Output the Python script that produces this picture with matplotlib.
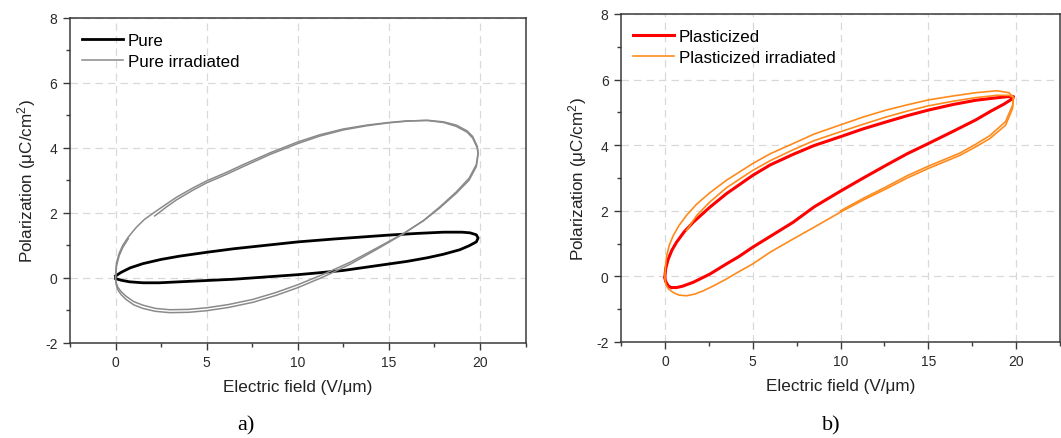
import matplotlib
matplotlib.use("Agg")
import matplotlib.pyplot as plt
from matplotlib.ticker import MultipleLocator

plt.rcParams['font.family'] = ['Liberation Sans', 'DejaVu Sans']
plt.rcParams['mathtext.fontset'] = 'custom'
plt.rcParams['mathtext.rm'] = 'Liberation Sans'
plt.rcParams['mathtext.it'] = 'Liberation Sans'
plt.rcParams['axes.unicode_minus'] = False

# ---------------- data ----------------
# Panel a) Pure
pure_E = [0, 0.3, 0.8, 1.5, 2.5, 3.5, 5, 6.5, 8, 10, 12, 14, 15, 16.5, 18, 19, 19.45, 19.8, 19.9, 19.8,
          19.4, 18.9, 18, 17.1, 16, 15, 13.5, 12.5, 11, 10, 8, 6.5, 5, 3.5, 2.4, 1.5, 0.77, 0.3, 0]
pure_P = [0.05, 0.16, 0.3, 0.43, 0.56, 0.66, 0.78, 0.89, 0.98, 1.1, 1.19, 1.27, 1.31, 1.36, 1.4, 1.4, 1.38, 1.32, 1.22, 1.1,
          0.98, 0.86, 0.72, 0.61, 0.5, 0.42, 0.3, 0.22, 0.14, 0.09, 0.01, -0.05, -0.09, -0.13, -0.16, -0.16, -0.13, -0.08, -0.03]

# Panel a) Pure irradiated (two traced cycles)
irr_E1 = [0, 0.05, 0.2, 0.4, 0.7, 1.14, 1.6, 2.23, 2.8, 3.33, 4.2, 5, 6, 7, 8.5, 10, 11.2, 12.5, 13.8, 15, 16, 17.1, 18, 18.7,
          19.3, 19.6, 19.85, 19.9, 19.8, 19.4, 18.7, 17.8, 16.9, 15.8, 14.3, 12.9, 11.4, 10, 8.8,
          7.55, 6.2, 5, 4, 2.97, 2.2, 1.5, 1.0, 0.59, 0.3, 0.13, 0.03, 0]
irr_P1 = [0.07, 0.45, 0.75, 1.0, 1.25, 1.55, 1.8, 2.05, 2.27, 2.47, 2.75, 2.98, 3.22, 3.48, 3.85, 4.18, 4.4, 4.58, 4.7, 4.78, 4.83, 4.84, 4.78, 4.66,
          4.48, 4.3, 4.0, 3.8, 3.42, 3.0, 2.6, 2.15, 1.75, 1.36, 0.9, 0.48, 0.1, -0.22, -0.46,
          -0.67, -0.83, -0.93, -0.98, -0.99, -0.95, -0.85, -0.74, -0.58, -0.43, -0.3, -0.15, -0.03]
irr_E2 = [2.15, 2.8, 3.33, 4.2, 5, 6, 7, 8.5, 10, 11.2, 12.5, 13.8, 15, 16, 17.1, 18, 18.7,
          19.3, 19.6, 19.85, 19.9, 19.8, 19.4, 18.7, 17.8, 16.9, 15.8, 14.3, 12.9, 11.4, 10, 8.8,
          7.55, 6.2, 5, 4, 2.97, 2.2, 1.5, 1.0, 0.59, 0.3, 0.13, 0.03, 0, 0.05, 0.2, 0.4, 0.7]
irr_P2 = [1.9, 2.18, 2.39, 2.68, 2.92, 3.16, 3.42, 3.8, 4.13, 4.36, 4.55, 4.68, 4.77, 4.82, 4.85, 4.8, 4.7,
          4.52, 4.35, 4.05, 3.85, 3.48, 3.06, 2.64, 2.18, 1.76, 1.35, 0.86, 0.42, 0.02, -0.31, -0.55,
          -0.76, -0.92, -1.02, -1.07, -1.08, -1.04, -0.95, -0.84, -0.68, -0.52, -0.38, -0.2, -0.05, 0.35, 0.68, 0.93, 1.2]

# Panel b) Plasticized
pla_E = [0, 0.05, 0.19, 0.4, 0.66, 1.1, 1.61, 2.56, 3.5, 5, 6, 7.3, 8.5, 10, 11.3, 12.6, 13.8, 15, 16.4, 17.7, 18.8, 19.5, 19.85,
         19.8, 19.3, 18.6, 17.7, 16.4, 15, 13.8, 12.6, 11.3, 10, 8.5, 7.3, 6, 5, 4.2, 3.5, 2.56, 1.61, 1.0, 0.66, 0.35, 0.19, 0.05, 0]
pla_P = [0.0, 0.25, 0.53, 0.8, 1.04, 1.36, 1.65, 2.11, 2.52, 3.08, 3.4, 3.72, 3.99, 4.26, 4.5, 4.71, 4.9, 5.07, 5.24, 5.37, 5.44, 5.48, 5.48,
         5.42, 5.25, 5.05, 4.77, 4.42, 4.05, 3.74, 3.39, 3.0, 2.6, 2.12, 1.65, 1.22, 0.89, 0.6, 0.38, 0.07, -0.18, -0.3, -0.34, -0.34, -0.29, -0.16, -0.06]

# Panel b) Plasticized irradiated (two traced cycles)
pir_E1 = [0, 0.04, 0.1, 0.25, 0.47, 0.8, 1.23, 1.8, 2.56, 3.5, 5, 6, 7.3, 8.5, 10, 11.3, 12.6, 13.8, 15, 16.4, 17.7, 18.9, 19.6, 19.85,
          19.8, 19.4, 18.5, 17.7, 16.8, 15, 13.8, 12.6, 11.3, 10, 8.5, 7.3, 6, 5, 4.2, 3.5, 2.8, 2.18, 1.7, 1.23, 0.8, 0.47, 0.2, 0.06, 0]
pir_P1 = [0.0, 0.35, 0.63, 0.95, 1.24, 1.55, 1.86, 2.2, 2.55, 2.93, 3.44, 3.74, 4.05, 4.34, 4.62, 4.86, 5.07, 5.23, 5.38, 5.5, 5.6, 5.66, 5.6, 5.45,
          5.12, 4.61, 4.2, 3.95, 3.69, 3.29, 3.0, 2.67, 2.33, 1.96, 1.5, 1.14, 0.74, 0.38, 0.14, -0.08, -0.28, -0.44, -0.54, -0.59, -0.57, -0.49, -0.38, -0.25, -0.05]
pir_E2 = [1.23, 1.8, 2.56, 3.5, 5, 6, 7.3, 8.5, 10, 11.3, 12.6, 13.8, 15, 16.4, 17.7, 18.9, 19.6, 19.85,
          19.8, 19.4, 18.5, 17.7, 16.8, 15, 13.8, 12.6, 11.3, 10]
pir_P2 = [1.4, 1.85, 2.27, 2.7, 3.23, 3.53, 3.86, 4.14, 4.41, 4.64, 4.86, 5.04, 5.2, 5.34, 5.45, 5.52, 5.52, 5.46,
          5.22, 4.72, 4.29, 4.03, 3.76, 3.36, 3.07, 2.73, 2.38, 2.0]

legend_a = ["Pure", "Pure irradiated"]
legend_b = ["Plasticized", "Plasticized irradiated"]
xlabel = "Electric field (V/\u03bcm)"
ylabel = "Polarization (\u03bcC/cm$^{2}$)"
panel_tags = ["a)", "b)"]

# ---------------- figure ----------------
fig = plt.figure(figsize=(10.61, 4.39), dpi=100)
ax1 = fig.add_axes([70 / 1061, (439 - 343.5) / 439, 455.5 / 1061, 324.5 / 439])
ax2 = fig.add_axes([621 / 1061, (439 - 343) / 439, 439 / 1061, 328 / 439])

spine_c = '#3a3a3a'
for ax in (ax1, ax2):
    ax.set_xlim(-2.5, 22.5)
    ax.set_ylim(-2, 8)
    ax.xaxis.set_major_locator(MultipleLocator(5))
    ax.xaxis.set_minor_locator(MultipleLocator(2.5))
    ax.yaxis.set_major_locator(MultipleLocator(2))
    ax.yaxis.set_minor_locator(MultipleLocator(1))
    ax.tick_params(which='both', direction='out', colors=spine_c, labelcolor='#2a2a2a',
                   top=False, right=False, labelsize=10, pad=4)
    ax.tick_params(which='major', length=5, width=1.0)
    ax.tick_params(which='minor', length=3, width=1.0)
    ax.grid(True, which='major', color='#d9d9d9', linestyle=(0, (6, 4)), linewidth=0.9)
    ax.set_axisbelow(True)
    for s in ax.spines.values():
        s.set_color(spine_c)
        s.set_linewidth(1.1)
    ax.set_xlabel(xlabel, fontsize=12.3, color='#222222', labelpad=7)
    ax.set_ylabel(ylabel, fontsize=12.3, color='#222222', labelpad=5)

leg_kw = dict(loc='upper left', frameon=False, fontsize=12.2,
              handlelength=2.45, handletextpad=0.25, labelspacing=0.33,
              borderaxespad=0.3, bbox_to_anchor=(0.0, 0.99))

# panel a
l1, = ax1.plot(pure_E, pure_P, color='black', lw=2.0, label=legend_a[0])
l2, = ax1.plot(irr_E1, irr_P1, color='#8a8a8a', lw=1.1, label=legend_a[1])
ax1.plot(irr_E2, irr_P2, color='#8a8a8a', lw=1.1)
ax1.legend(handles=[l1, l2], **leg_kw)

# panel b
l3, = ax2.plot(pla_E, pla_P, color='#ff0000', lw=2.2, label=legend_b[0])
l4, = ax2.plot(pir_E1, pir_P1, color='#ff8a1c', lw=1.2, label=legend_b[1])
ax2.plot(pir_E2, pir_P2, color='#ff8a1c', lw=1.2)
ax2.legend(handles=[l3, l4], **leg_kw)

fig.text(246 / 1061, 1 - 426 / 439, panel_tags[0], ha='center', va='center',
         fontsize=16, family='Liberation Serif')
fig.text(831 / 1061, 1 - 426 / 439, panel_tags[1], ha='center', va='center',
         fontsize=16, family='Liberation Serif')

fig.savefig('out.png', dpi=100)
